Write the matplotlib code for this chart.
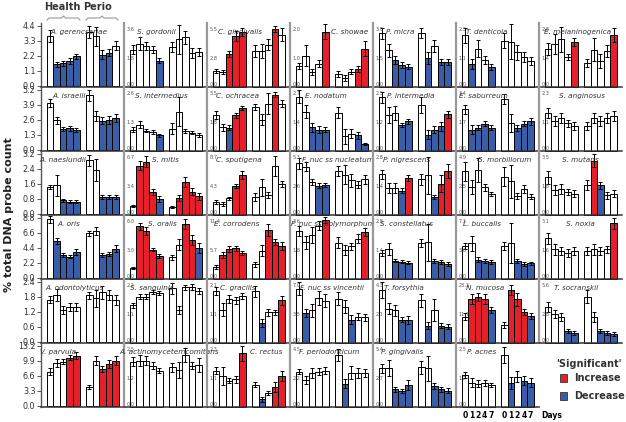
import matplotlib.pyplot as plt
from matplotlib.patches import Rectangle
from matplotlib.lines import Line2D

# species in reading order (6 rows x 7 columns, last cell = legend)
species = [
    'A. gerencseriae', 'S. gordonii', 'C. gingivalis', 'C. showae', 'P. micra', 'T. denticola', 'E. melaninogenica',
    'A. israelii', 'S. intermedius', 'C. ochracea', 'E. nodatum', 'P. intermedia', 'E. saburreum', 'S. anginosus',
    'A. naeslundii', 'S. mitis', 'C. sputigena', 'F. nuc ss nucleatum', 'P. nigrescens', 'G. morbillorum', 'S. mutans',
    'A. oris', 'S. oralis', 'E. corrodens', 'F. nuc ss polymorphum', 'S. constellatus', 'L. buccalis', 'S. noxia',
    'A. odontolyticus', 'S. sanguinis', 'C. gracilis', 'F. nuc ss vincentii', 'T. forsythia', 'N. mucosa', 'T. socranskii',
    'V. parvula', 'A. actinomycetemcomitans', 'C. rectus', 'F. periodonticum', 'P. gingivalis', 'P. acnes',
]

# axis maximum of every panel
ymax = [
    4.4, 3.6, 5.5, 2.0, 3.0, 2.3, 2.8,
    5.2, 2.6, 3.5, 2.7, 2.5, 3.4, 2.3,
    3.2, 6.7, 8.7, 5.3, 2.8, 4.9, 3.5,
    8.8, 6.0, 11.4, 3.6, 2.8, 7.3, 3.1,
    2.4, 2.2, 2.1, 7.0, 4.3, 23.3, 5.6,
    13.2, 2.5, 2.3, 4.5, 5.4, 2.5,
]

# mean values: health days 0 1 2 4 7, then perio days 0 1 2 4 7
values = [
    [3.64, 1.55, 1.62, 1.80, 2.14, 3.93, 3.64, 2.28, 2.40, 2.93],
    [2.33, 2.71, 2.54, 2.33, 1.65, 2.50, 2.97, 3.10, 2.12, 2.18],
    [1.55, 1.40, 3.17, 4.85, 5.27, 3.43, 3.43, 4.05, 5.50, 5.00],
    [0.72, 1.09, 0.53, 0.80, 1.92, 0.45, 0.30, 0.53, 0.62, 1.33],
    [2.79, 1.90, 1.41, 1.15, 1.06, 2.82, 1.52, 2.12, 1.29, 1.29],
    [2.07, 0.92, 1.53, 1.08, 0.81, 1.84, 1.80, 1.39, 1.19, 1.03],
    [1.86, 2.08, 2.31, 1.45, 2.19, 1.15, 1.81, 1.25, 1.75, 2.52],

    [4.06, 2.56, 1.79, 1.85, 1.70, 4.70, 2.93, 2.50, 2.56, 2.78],
    [0.96, 1.19, 0.92, 0.86, 0.70, 1.01, 1.77, 0.89, 0.83, 0.73],
    [2.18, 1.44, 1.40, 2.18, 2.59, 2.67, 1.91, 2.88, 3.42, 2.88],
    [2.54, 1.84, 1.11, 1.00, 1.00, 1.79, 0.68, 0.81, 0.73, 0.32],
    [2.32, 1.56, 1.66, 1.12, 1.29, 2.00, 0.71, 0.93, 1.07, 1.59],
    [2.46, 1.26, 1.36, 1.60, 1.36, 3.06, 1.66, 1.36, 1.62, 1.76],
    [1.50, 1.20, 1.30, 1.10, 1.00, 1.00, 1.30, 1.20, 1.30, 1.40],

    [1.41, 1.50, 0.70, 0.64, 0.64, 2.85, 2.34, 0.90, 0.90, 0.90],
    [1.04, 5.74, 6.20, 2.70, 1.83, 0.92, 2.03, 3.82, 2.70, 2.15],
    [1.97, 1.60, 2.49, 4.35, 6.10, 2.75, 4.20, 3.00, 7.46, 4.70],
    [4.76, 4.45, 3.03, 2.71, 2.78, 4.04, 3.72, 3.19, 2.78, 3.28],
    [1.97, 1.32, 1.32, 1.18, 1.80, 1.73, 1.93, 0.88, 1.52, 2.13],
    [3.73, 2.36, 3.82, 2.36, 1.78, 3.24, 2.86, 1.63, 2.20, 1.57],
    [2.30, 1.50, 1.60, 1.40, 1.30, 1.80, 3.30, 1.80, 1.20, 1.30],

    [8.54, 5.37, 3.30, 3.08, 3.78, 6.51, 6.78, 3.30, 3.43, 4.22],
    [1.16, 5.49, 5.02, 3.03, 2.38, 2.24, 3.57, 5.74, 4.04, 3.21],
    [2.34, 4.74, 5.90, 6.10, 5.08, 2.88, 5.63, 9.75, 7.28, 6.46],
    [3.01, 2.30, 2.73, 3.34, 3.67, 2.26, 1.82, 2.04, 2.52, 2.95],
    [1.28, 1.45, 0.88, 0.83, 0.78, 1.75, 1.79, 0.88, 0.83, 0.74],
    [4.20, 4.50, 2.46, 2.29, 2.16, 4.23, 4.58, 2.29, 1.94, 2.00],
    [2.20, 1.60, 1.50, 1.40, 1.50, 1.50, 1.60, 1.50, 1.60, 3.00],

    [1.68, 1.87, 1.27, 1.39, 1.39, 1.85, 1.73, 1.97, 1.87, 1.68],
    [1.44, 1.76, 1.76, 1.94, 1.90, 2.08, 1.25, 2.13, 2.13, 1.99],
    [1.90, 1.22, 1.59, 1.55, 1.72, 1.88, 0.72, 1.12, 1.12, 1.55],
    [6.60, 3.62, 3.97, 5.46, 5.15, 5.37, 4.41, 2.84, 3.19, 3.10],
    [3.98, 2.55, 2.45, 1.75, 1.75, 3.17, 1.29, 2.45, 1.29, 1.21],
    [10.6, 17.6, 18.6, 17.6, 13.2, 7.40, 21.5, 17.6, 12.4, 10.9],
    [3.50, 2.80, 2.50, 1.20, 1.00, 4.50, 2.50, 1.20, 1.00, 0.90],

    [7.50, 9.40, 9.70, 10.55, 10.97, 4.07, 9.86, 8.00, 9.17, 9.86],
    [1.97, 2.01, 2.01, 1.78, 1.58, 1.72, 1.60, 2.25, 1.78, 1.82],
    [1.45, 1.24, 1.05, 1.10, 2.14, 0.88, 0.31, 0.55, 0.81, 1.24],
    [2.76, 2.10, 2.63, 2.76, 2.84, 4.06, 1.80, 2.68, 2.68, 2.63],
    [3.62, 3.62, 1.65, 1.53, 2.06, 3.72, 3.62, 1.97, 1.65, 1.53],
    [1.39, 1.05, 1.00, 1.05, 0.95, 2.25, 1.05, 1.32, 1.14, 1.05],
]

# standard errors
errors = [
    [0.45, 0.20, 0.20, 0.20, 0.20, 0.45, 0.70, 0.35, 0.25, 0.35],
    [0.30, 0.40, 0.25, 0.20, 0.15, 0.30, 0.90, 0.40, 0.30, 0.25],
    [0.20, 0.20, 0.30, 0.50, 0.40, 0.60, 0.70, 0.50, 0.30, 0.60],
    [0.10, 0.35, 0.10, 0.12, 0.25, 0.10, 0.10, 0.08, 0.10, 0.25],
    [0.30, 0.35, 0.20, 0.15, 0.12, 0.25, 0.30, 0.30, 0.15, 0.15],
    [0.30, 0.20, 0.35, 0.15, 0.12, 0.30, 0.70, 0.30, 0.20, 0.15],
    [0.30, 0.50, 0.60, 0.15, 0.20, 0.20, 0.55, 0.35, 0.30, 0.35],

    [0.35, 0.30, 0.20, 0.20, 0.15, 0.50, 0.45, 0.30, 0.35, 0.35],
    [0.12, 0.15, 0.08, 0.08, 0.06, 0.25, 0.65, 0.10, 0.08, 0.10],
    [0.25, 0.20, 0.15, 0.15, 0.12, 0.20, 0.35, 0.65, 0.15, 0.20],
    [0.30, 0.30, 0.20, 0.18, 0.12, 0.25, 0.35, 0.20, 0.15, 0.06],
    [0.25, 0.35, 0.30, 0.10, 0.10, 0.35, 0.20, 0.15, 0.20, 0.15],
    [0.25, 0.25, 0.15, 0.15, 0.15, 0.30, 0.55, 0.20, 0.15, 0.20],
    [0.20, 0.20, 0.20, 0.15, 0.15, 0.15, 0.20, 0.20, 0.20, 0.20],

    [0.10, 0.55, 0.08, 0.06, 0.06, 0.30, 0.60, 0.10, 0.10, 0.10],
    [0.10, 0.50, 0.60, 0.35, 0.35, 0.15, 0.35, 0.60, 0.40, 0.35],
    [0.35, 0.30, 0.20, 0.30, 0.60, 0.60, 1.30, 0.50, 1.50, 0.50],
    [0.50, 0.45, 0.30, 0.20, 0.20, 0.50, 0.90, 0.60, 0.30, 0.40],
    [0.20, 0.25, 0.25, 0.12, 0.15, 0.25, 0.90, 0.10, 0.40, 0.35],
    [0.80, 0.60, 1.00, 0.30, 0.20, 0.80, 1.40, 0.25, 0.35, 0.20],
    [0.40, 0.30, 0.30, 0.20, 0.20, 0.30, 0.40, 0.20, 0.20, 0.20],

    [0.50, 0.45, 0.30, 0.25, 0.40, 0.40, 0.60, 0.30, 0.30, 0.50],
    [0.10, 0.35, 0.40, 0.15, 0.20, 0.30, 0.60, 0.50, 0.50, 0.50],
    [0.40, 0.60, 0.60, 0.50, 0.40, 0.50, 1.00, 1.20, 0.60, 0.80],
    [0.30, 0.40, 0.50, 0.30, 0.20, 0.35, 0.30, 0.20, 0.30, 0.25],
    [0.15, 0.30, 0.07, 0.07, 0.07, 0.20, 0.90, 0.10, 0.10, 0.10],
    [0.40, 1.00, 0.35, 0.30, 0.20, 0.50, 2.50, 0.30, 0.25, 0.20],
    [0.30, 0.30, 0.20, 0.20, 0.20, 0.20, 0.30, 0.20, 0.20, 0.30],

    [0.15, 0.25, 0.15, 0.15, 0.15, 0.15, 0.35, 0.25, 0.20, 0.20],
    [0.10, 0.10, 0.10, 0.08, 0.08, 0.20, 0.15, 0.10, 0.12, 0.12],
    [0.15, 0.25, 0.15, 0.12, 0.10, 0.20, 0.15, 0.12, 0.10, 0.15],
    [0.80, 0.50, 0.80, 0.80, 0.80, 0.80, 0.80, 0.50, 0.40, 0.40],
    [0.60, 0.40, 0.40, 0.20, 0.30, 0.50, 0.25, 0.80, 0.20, 0.20],
    [1.50, 2.00, 1.50, 2.00, 1.20, 1.20, 2.00, 2.50, 1.20, 1.30],
    [0.50, 0.40, 0.40, 0.20, 0.20, 0.60, 0.50, 0.20, 0.20, 0.20],

    [0.70, 0.80, 0.60, 0.60, 0.80, 0.50, 1.00, 0.70, 0.80, 1.00],
    [0.20, 0.25, 0.20, 0.15, 0.10, 0.20, 0.35, 0.30, 0.15, 0.30],
    [0.15, 0.35, 0.10, 0.15, 0.30, 0.10, 0.10, 0.08, 0.20, 0.20],
    [0.20, 0.30, 0.40, 0.30, 0.25, 0.50, 0.35, 0.50, 0.40, 0.30],
    [0.40, 0.75, 0.20, 0.20, 0.45, 0.60, 1.20, 0.30, 0.25, 0.25],
    [0.12, 0.20, 0.15, 0.12, 0.08, 0.35, 0.25, 0.25, 0.20, 0.20],
]

# significance: w = none, r = increase, b = decrease
signif = [
    'wbbbbwwbbw', 'wwwwbwwwww', 'wwrrrwwwrw', 'wwwwrwwwrr', 'wwbbbwbwbb', 'wbwwbwwwww', 'wwwwrwwwwr',
    'wwbbbwwbbb', 'wwwwbwwwww', 'wwbrrwwwrw', 'wwbbbwwwbb', 'wwwbbwbbbr', 'wbbbbwwbbb', 'wwwwwwwwww',
    'wwbbbwwbbb', 'wrrrbwrrrr', 'wwwrrwwwww', 'wwwbbwwwww', 'wwwbrwwbrr', 'wwwwwwwwww', 'wwwwwwrbww',
    'wbbbbwwbbb', 'wrrrrwwrrb', 'wrrrrwwrrr', 'wwwwrwwwwr', 'wwbbbwwbbb', 'wwbbbwwbbb', 'wwwwwwwwwr',
    'wwwwwwwwww', 'wwwwwwwwww', 'wwwwwwbwwr', 'wbwwwwwbww', 'wwwbbwbwbb', 'wrrrbwrrrb', 'wwwbbwwbbb',
    'wwwrrwwrrr', 'wwwwwwwwww', 'wwwwrwbwrr', 'wwwwwwbwww', 'wwbbbwwbbb', 'wwwwwwbwbb',
]

days = ['0', '1', '2', '4', '7']

# label placement inside each panel (fraction of panel width)
label_x = [
    0.46, 0.39, 0.40, 0.72, 0.33, 0.37, 0.47,
    0.34, 0.45, 0.37, 0.43, 0.45, 0.33, 0.52,
    0.26, 0.50, 0.39, 0.58, 0.40, 0.58, 0.50,
    0.33, 0.46, 0.36, 0.52, 0.40, 0.31, 0.50,
    0.41, 0.34, 0.37, 0.50, 0.37, 0.35, 0.45,
    0.20, 0.54, 0.71, 0.47, 0.35, 0.31,
]

colors = {'w': 'white', 'r': '#e5202a', 'b': '#3a5da8'}
W, H = 626, 422
x0, y0, cw, rh = 41, 23, 83, 64
xpos = [0, 1, 2, 3, 4, 6, 7, 8, 9, 10]

fig = plt.figure(figsize=(W / 100, H / 100), dpi=100)

for i, name in enumerate(species):
    r, c = divmod(i, 7)
    ax = fig.add_axes([(x0 + cw * c) / W, 1 - (y0 + rh * (r + 1)) / H, cw / W, rh / H])
    ax.patch.set_alpha(0)
    m = ymax[i]
    cols = [colors[k] for k in signif[i]]
    ax.bar(xpos, values[i], width=1.0, color=cols, edgecolor='black', linewidth=0.7, clip_on=False, zorder=2)
    eb = ax.errorbar(xpos, values[i], yerr=errors[i], fmt='none', ecolor='black',
                     elinewidth=0.7, capsize=1.6, capthick=0.7, zorder=3)
    for a in list(eb.lines[1]) + list(eb.lines[2]):
        a.set_clip_on(False)
    ax.set_xlim(-1.4, 11.3)
    ax.set_xticks([])
    for s in ['top', 'right']:
        ax.spines[s].set_visible(False)
    ax.spines['bottom'].set_color('#333333')
    ax.spines['bottom'].set_linewidth(1.1)
    if c == 0:
        ax.set_ylim(-0.025 * m, m * 1.045)
        ax.set_yticks([m * k / 4 for k in range(5)])
        ax.set_yticklabels(['%.1f' % (m * k / 4) for k in range(5)])
        ax.tick_params(axis='y', length=3, width=0.7, color='#555555', labelsize=5.8,
                       labelcolor='#333333', pad=1)
        ax.spines['left'].set_color('#555555')
        ax.spines['left'].set_linewidth(1.0)
    else:
        ax.set_ylim(0, m * 1.11)
        ax.set_yticks([])
        ax.spines['left'].set_color('#999999')
        ax.spines['left'].set_linewidth(1.6)
        tr = ax.get_yaxis_transform()
        ax.text(0.03, m, '%.1f' % m, transform=tr, fontsize=3.6, color='#555555', va='center')
        ax.text(0.03, m / 2, '%.1f' % (m / 2), transform=tr, fontsize=3.6, color='#555555', va='center')
        ax.text(0.03, 0, '0.0', transform=tr, fontsize=3.6, color='#555555', va='bottom')
    ax.text(label_x[i], 0.86, name, transform=ax.transAxes, fontsize=5.2, style='italic',
            color='#333333', ha='center', va='center', zorder=4)
    if i == len(species) - 1:
        tr = ax.get_xaxis_transform()
        for j, x in enumerate(xpos):
            ax.text(x, -0.13, days[j % 5], transform=tr, fontsize=5.5, fontweight='bold',
                    ha='center', va='center')
        ax.text(13.3, -0.13, 'Days', transform=tr, fontsize=5.5, fontweight='bold',
                ha='center', va='center')

# Health / Perio headers with braces
fig.text(62 / W, 1 - 7 / H, 'Health', fontsize=7, fontweight='bold', ha='center', va='center', color='#333333')
fig.text(98 / W, 1 - 7 / H, 'Perio', fontsize=7, fontweight='bold', ha='center', va='center', color='#333333')
for a, b in [(47, 80), (86, 118)]:
    mid = (a + b) / 2
    xs = [a, a + 2, mid - 2, mid, mid + 2, b - 2, b]
    ys = [20, 18, 18, 16, 18, 18, 20]
    fig.add_artist(Line2D([x / W for x in xs], [1 - y / H for y in ys], color='#999999',
                          linewidth=0.8, transform=fig.transFigure))

fig.text(9 / W, 1 - 215 / H, '% total DNA probe count', rotation=90, fontsize=8,
         fontweight='bold', ha='center', va='center', color='#222222')

# legend
fig.text(589 / W, 1 - 364 / H, "'Significant'", fontsize=7, fontweight='bold', ha='center', va='center', color='#333333')
for y, col, lab in [(378, colors['r'], 'Increase'), (396, colors['b'], 'Decrease')]:
    fig.add_artist(Rectangle((560 / W, 1 - (y + 4) / H), 7 / W, 8 / H, facecolor=col,
                             edgecolor='#333333', linewidth=0.6, transform=fig.transFigure))
    fig.text(574 / W, 1 - y / H, lab, fontsize=7, fontweight='bold', ha='left', va='center', color='#333333')

fig.savefig('out.png', dpi=100)
